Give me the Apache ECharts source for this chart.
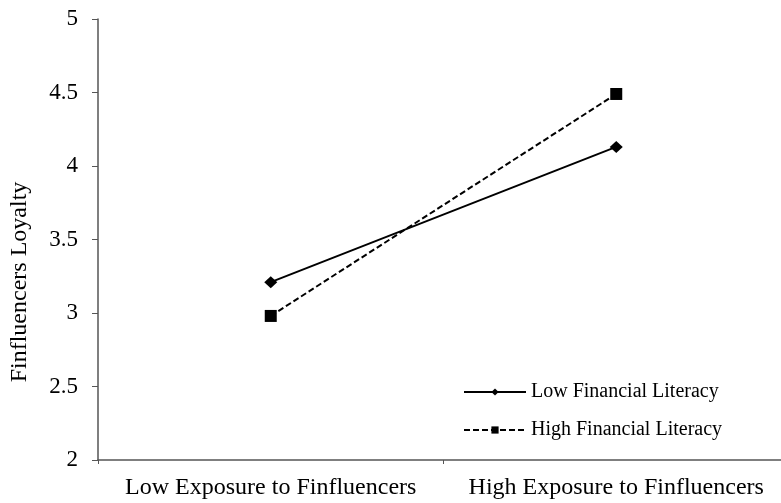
<!DOCTYPE html>
<html>
<head>
<meta charset="utf-8">
<script src="https://cdn.jsdelivr.net/npm/echarts@6/dist/echarts.min.js"></script>
<style>
  html, body { margin: 0; padding: 0; background: #fff; overflow: hidden; }
  #chart { width: 800px; height: 503px; }
</style>
</head>
<body>
<div id="chart"></div>
<script>
// Interaction plot: exposure to finfluencers x financial literacy
const categories = ['Low Exposure to Finfluencers', 'High Exposure to Finfluencers'];
const lowLiteracy = [3.21, 4.13];
const highLiteracy = [2.98, 4.49];
const seriesNames = ['Low Financial Literacy', 'High Financial Literacy'];
const yAxisTitle = 'Finfluencers Loyalty';

const FONT = '"Liberation Serif", "Times New Roman", serif';
const AXIS_COLOR = '#555';

const chart = echarts.init(document.getElementById('chart'), null, { renderer: 'canvas' });

chart.setOption({
  animation: false,
  backgroundColor: '#fff',
  textStyle: { fontFamily: FONT, color: '#000' },
  // the category axis runs a little past the right edge of the visible page
  grid: { left: 98, top: 19, bottom: 43, right: 11, containLabel: false },
  legend: {
    orient: 'vertical',
    left: 458,
    top: 377,
    itemWidth: 62,
    itemHeight: 9,
    itemGap: 18,
    textStyle: { fontFamily: FONT, fontSize: 20, color: '#000' },
    data: seriesNames
  },
  graphic: [{
    type: 'text',
    x: 20,
    y: 282,
    rotation: Math.PI / 2,
    style: {
      text: yAxisTitle,
      font: '24px ' + FONT,
      fill: '#000',
      align: 'center',
      verticalAlign: 'middle'
    }
  }],
  xAxis: {
    type: 'category',
    data: categories,
    boundaryGap: true,
    axisLine: { lineStyle: { color: AXIS_COLOR, width: 1.5 } },
    axisTick: { show: true, interval: 0, length: 4, lineStyle: { color: AXIS_COLOR } },
    axisLabel: { interval: 0, hideOverlap: false, fontFamily: FONT, fontSize: 24, color: '#000', margin: 16 },
    splitLine: { show: false }
  },
  yAxis: {
    type: 'value',
    min: 2,
    max: 5,
    interval: 0.5,
    axisLine: { show: true, lineStyle: { color: AXIS_COLOR, width: 1.5 } },
    axisTick: { show: true, length: 6, lineStyle: { color: AXIS_COLOR } },
    axisLabel: { fontFamily: FONT, fontSize: 23, color: '#000', margin: 20 },
    splitLine: { show: false }
  },
  series: [
    {
      name: seriesNames[0],
      type: 'line',
      data: lowLiteracy,
      symbol: 'diamond',
      symbolSize: [13, 12],
      lineStyle: { color: '#000', width: 2, type: 'solid' },
      itemStyle: { color: '#000' }
    },
    {
      name: seriesNames[1],
      type: 'line',
      data: highLiteracy,
      symbol: 'rect',
      symbolSize: 12,
      lineStyle: { color: '#000', width: 2, type: [6, 3] },
      itemStyle: { color: '#000' }
    }
  ]
});
</script>
</body>
</html>
